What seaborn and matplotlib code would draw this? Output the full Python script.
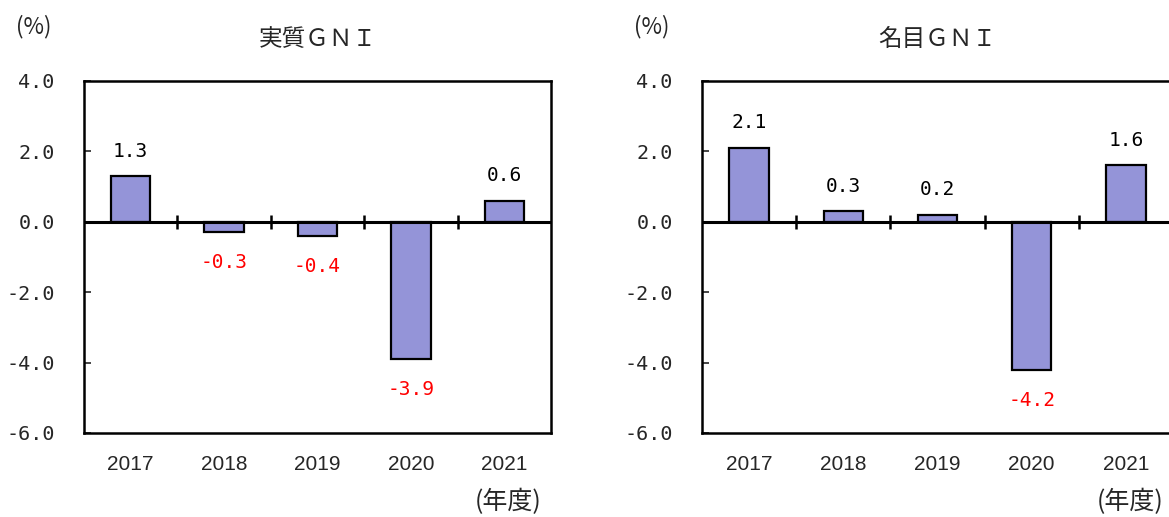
import matplotlib
matplotlib.use("Agg")
import matplotlib.pyplot as plt
import seaborn as sns
import pandas as pd

years = ["2017", "2018", "2019", "2020", "2021"]
real_gni = [1.3, -0.3, -0.4, -3.9, 0.6]
nominal_gni = [2.1, 0.3, 0.2, -4.2, 1.6]
titles = ["実質ＧＮＩ", "名目ＧＮＩ"]
y_ticks = [-6.0, -4.0, -2.0, 0.0, 2.0, 4.0]

sns.set_theme(style="white")
plt.rcParams["font.family"] = ["Noto Sans CJK JP", "DejaVu Sans"]

BAR = "#9494D8"
NUM_FONT = ["DejaVu Sans Mono"]
YEAR_FONT = ["Liberation Sans"]

fig = plt.figure(figsize=(11.69, 5.17), dpi=100)
W, H = 1169, 517
ax_boxes = [
    (84 / W, (517 - 433) / H, 467 / W, 352 / H),
    (702 / W, (517 - 433) / H, 471 / W, 352 / H),
]


def draw_panel(ax, values, title):
    df = pd.DataFrame({"year": years, "value": values})
    sns.barplot(data=df, x="year", y="value", ax=ax, color=BAR,
                saturation=1, width=0.42, edgecolor="black", linewidth=1.6)
    ax.set_ylim(y_ticks[0], y_ticks[-1])
    ax.set_xlim(-0.5, len(years) - 0.5)
    ax.set_yticks(y_ticks)
    ax.set_yticklabels([f"{t:.1f}" for t in y_ticks], family=NUM_FONT, fontsize=14.5)
    ax.tick_params(axis="y", direction="in", length=5, width=1.2, left=True, pad=21)
    ax.tick_params(axis="x", length=0, pad=16)
    for lab in ax.get_xticklabels():
        lab.set_family(YEAR_FONT)
        lab.set_fontsize(15)
    ax.set_xlabel("")
    ax.set_ylabel("")
    for sp in ax.spines.values():
        sp.set_visible(True)
        sp.set_color("black")
        sp.set_linewidth(1.8)
    # zero line with category separators
    ax.axhline(0, color="black", linewidth=2.2, zorder=3)
    ax.vlines([i + 0.5 for i in range(len(years) - 1)], -0.2, 0.2,
              color="black", linewidth=1.8, zorder=3)
    for i, v in enumerate(values):
        if v >= 0:
            ax.annotate(f"{v:.1f}", (i, v), xytext=(0, 18), textcoords="offset points",
                        ha="center", va="center", family=NUM_FONT, fontsize=14,
                        color="black")
        else:
            ax.annotate(f"{v:.1f}", (i, v), xytext=(0, -22), textcoords="offset points",
                        ha="center", va="center", family=NUM_FONT, fontsize=14,
                        color="red")
    ax.set_title(title, fontsize=17, pad=25)


for box, vals, ttl in zip(ax_boxes, [real_gni, nominal_gni], titles):
    ax = fig.add_axes(box)
    draw_panel(ax, vals, ttl)

fig.text(34 / W, 1 - 27 / H, "(%)", ha="center", va="center", fontsize=16)
fig.text(652 / W, 1 - 27 / H, "(%)", ha="center", va="center", fontsize=16)
fig.text(508 / W, 1 - 502 / H, "(年度)", ha="center", va="center", fontsize=18)
fig.text(1130 / W, 1 - 502 / H, "(年度)", ha="center", va="center", fontsize=18)

fig.savefig("out.png", dpi=100)
